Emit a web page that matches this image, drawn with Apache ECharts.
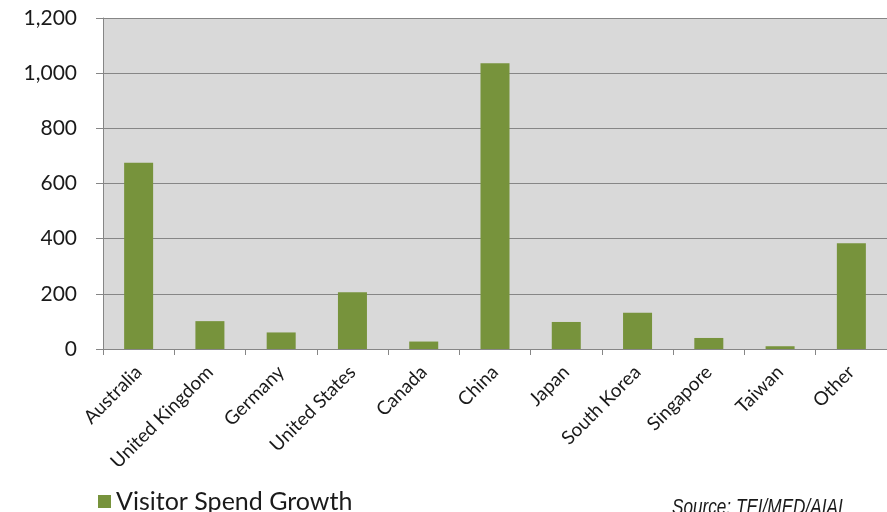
<!DOCTYPE html>
<html>
<head>
<meta charset="utf-8">
<script src="https://cdn.jsdelivr.net/npm/echarts@6/dist/echarts.min.js"></script>
<style>
  html, body { margin: 0; padding: 0; background: #fff; }
  #chart { width: 887px; height: 512px; }
</style>
</head>
<body>
<div id="chart"></div>
<script>
// Visitor spend growth by source market
const categories = ['Australia', 'United Kingdom', 'Germany', 'United States', 'Canada',
  'China', 'Japan', 'South Korea', 'Singapore', 'Taiwan', 'Other'];
const spendGrowth = [675, 101, 60, 206, 27, 1036, 98, 131, 40, 10, 383];
const yTicks = { min: 0, max: 1200, interval: 200 };
const seriesName = 'Visitor Spend Growth';
const sourceNote = 'Source: TEI/MED/AIAI';

const labelFont = 'Lato, "Open Sans", "Noto Sans", sans-serif';
const chart = echarts.init(document.getElementById('chart'), null, { renderer: 'canvas' });

chart.setOption({
  animation: false,
  backgroundColor: '#ffffff',
  grid: {
    left: 103, top: 18, width: 788, height: 331,
    show: true, backgroundColor: '#d9d9d9', borderWidth: 0
  },
  legend: {
    left: 93, top: 484,
    itemWidth: 13, itemHeight: 13, itemGap: 8,
    icon: 'rect',
    textStyle: { fontFamily: labelFont, fontSize: 25, color: '#1a1a1a' },
    data: [seriesName]
  },
  xAxis: {
    type: 'category',
    data: categories,
    boundaryGap: true,
    axisLine: { lineStyle: { color: '#868686', width: 1 } },
    axisTick: { show: true, length: 6, alignWithLabel: false, lineStyle: { color: '#868686' } },
    axisLabel: {
      interval: 0, rotate: 45, margin: 20,
      fontFamily: labelFont, fontSize: 19, color: '#1a1a1a'
    }
  },
  yAxis: {
    type: 'value',
    min: yTicks.min, max: yTicks.max, interval: yTicks.interval,
    axisLine: { show: true, lineStyle: { color: '#868686' } },
    axisTick: { show: true, length: 7, lineStyle: { color: '#868686' } },
    splitLine: { show: true, lineStyle: { color: '#868686', width: 1 } },
    axisLabel: {
      margin: 26,
      fontFamily: labelFont, fontSize: 21, color: '#1a1a1a',
      formatter: v => v.toLocaleString('en-US')
    }
  },
  series: [{
    name: seriesName,
    type: 'bar',
    data: spendGrowth,
    barWidth: 29,
    itemStyle: { color: '#77933c' }
  }],
  graphic: [{
    type: 'text',
    x: 672, y: 497,
    scaleX: 0.78,
    style: {
      text: sourceNote,
      font: 'italic 22px "Liberation Sans", Arial, sans-serif',
      fill: '#1a1a1a',
      verticalAlign: 'top'
    }
  }]
});
</script>
</body>
</html>
